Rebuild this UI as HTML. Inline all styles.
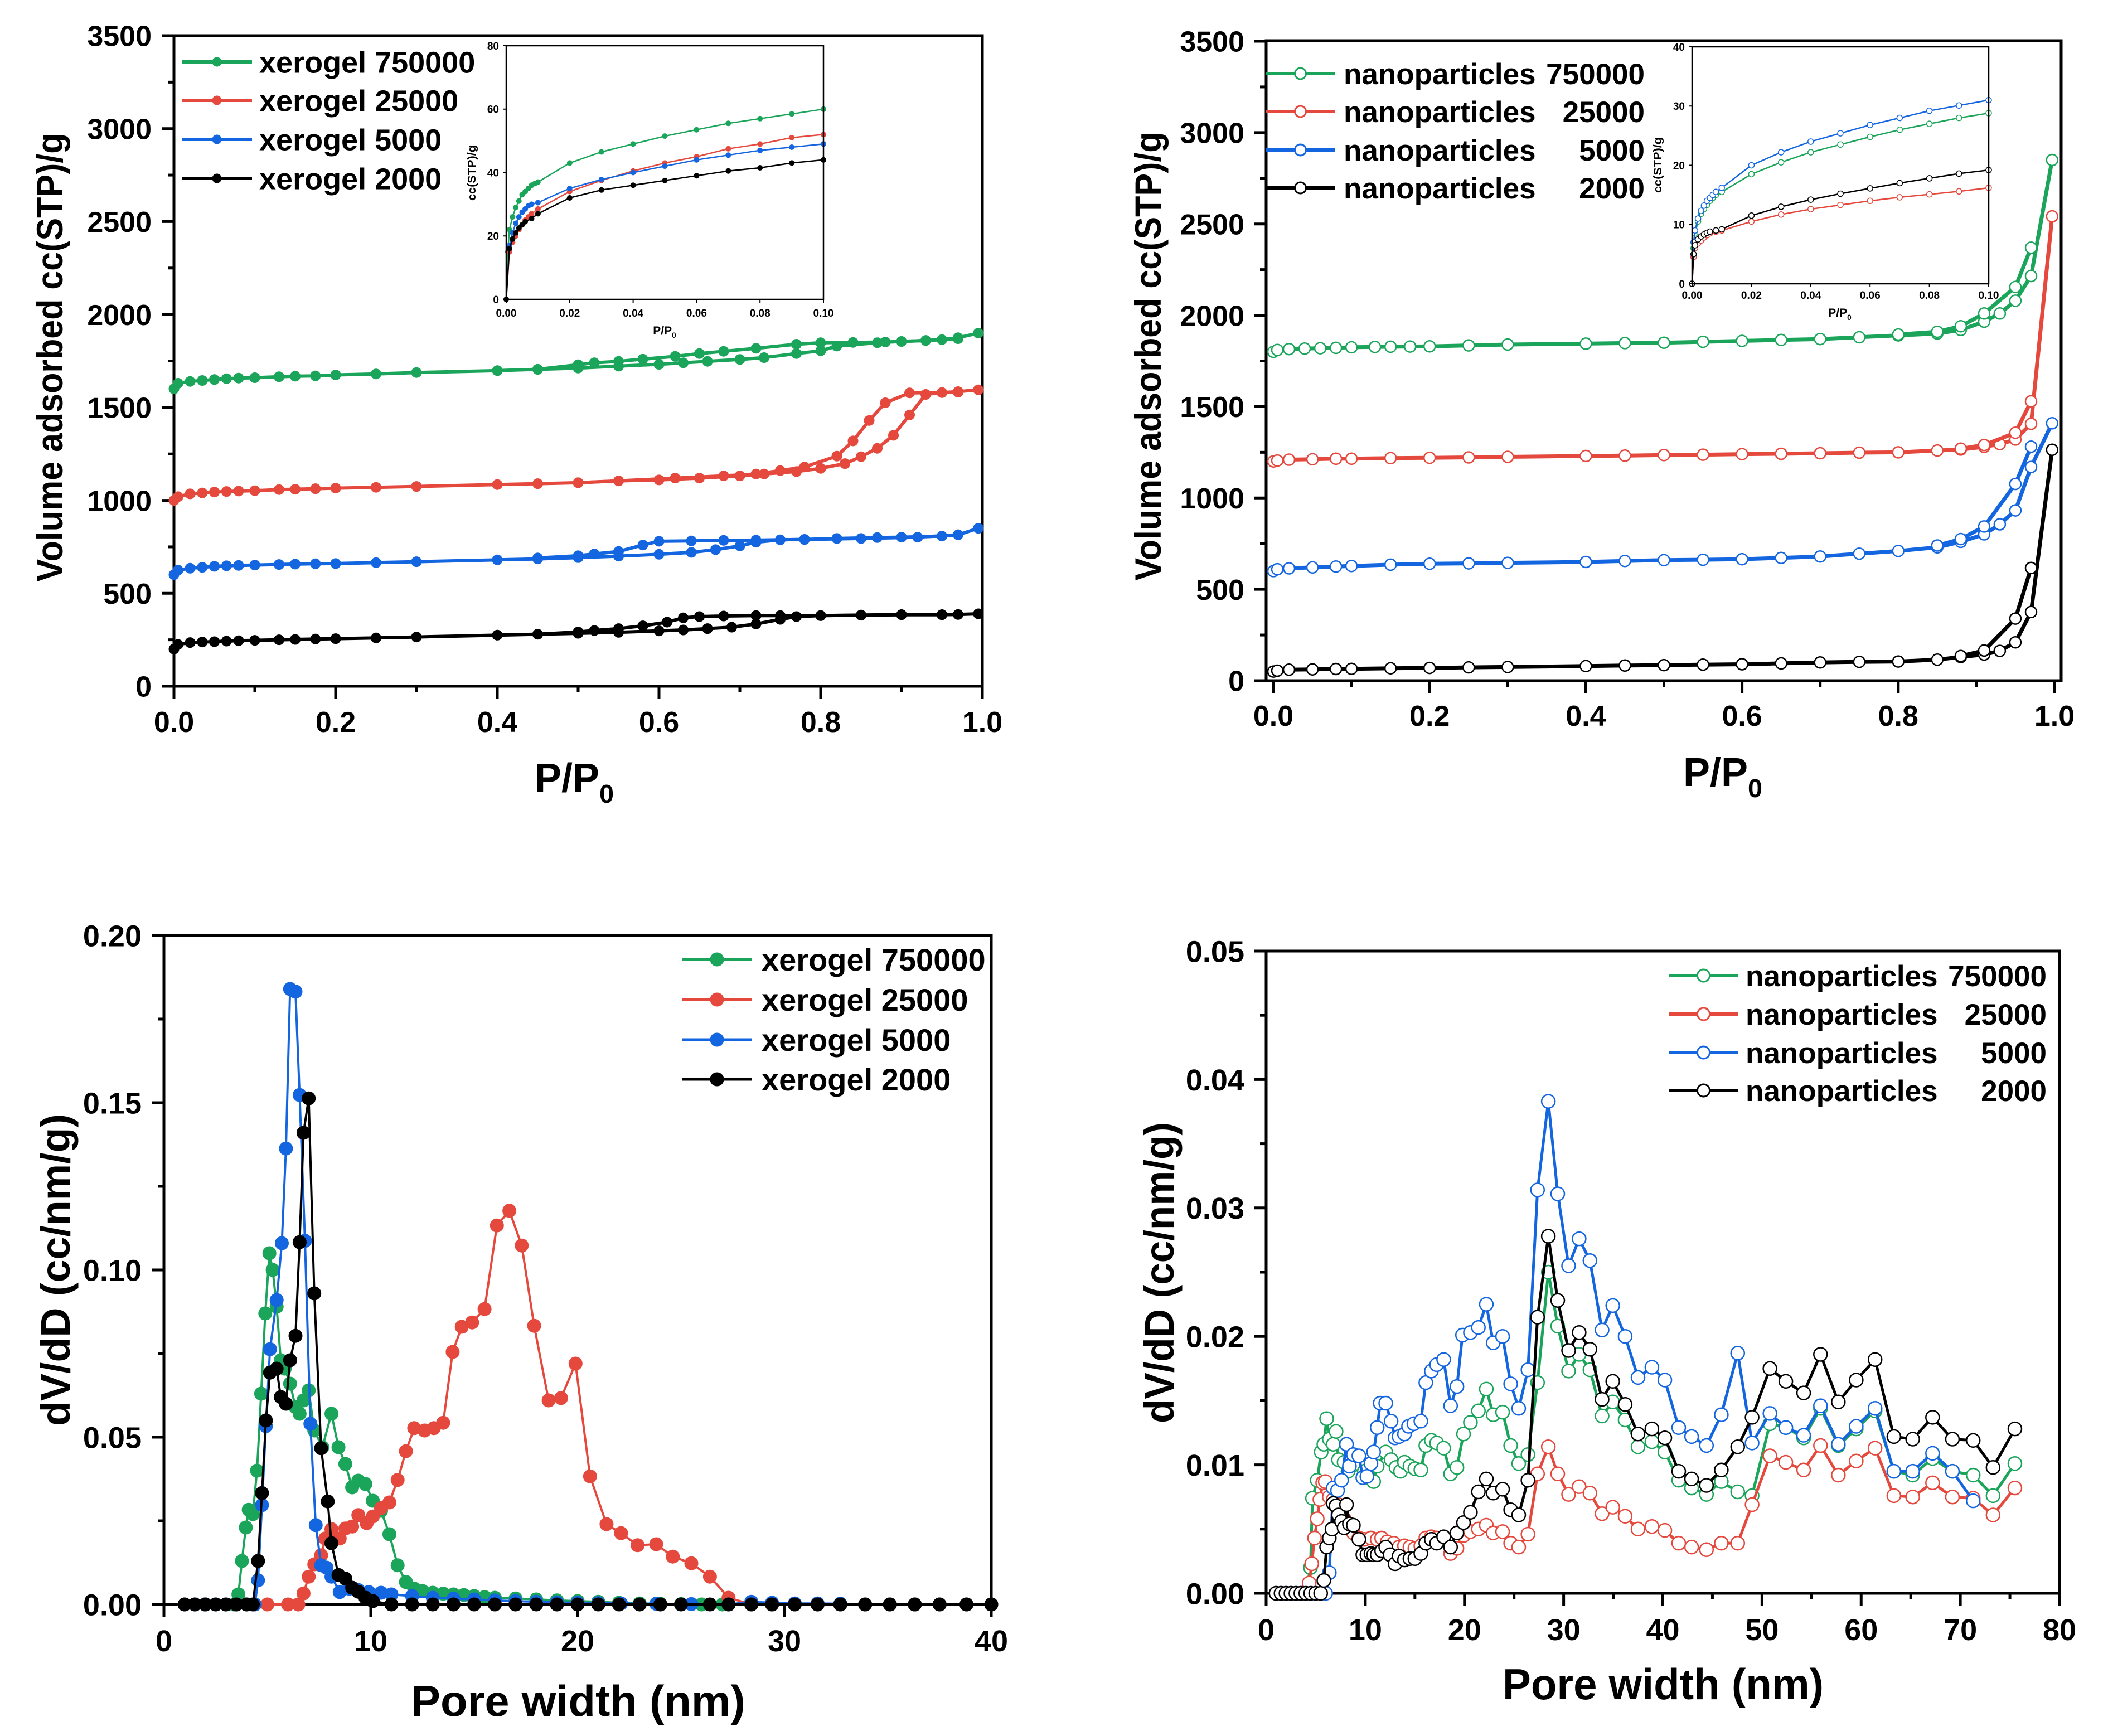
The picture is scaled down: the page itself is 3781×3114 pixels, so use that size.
<!DOCTYPE html>
<html><head><meta charset="utf-8"><style>
html,body{margin:0;padding:0;background:#fff;}
svg{display:block;font-family:"Liberation Sans",Arial,sans-serif;font-weight:bold;}
</style></head><body>
<svg id="fig" xmlns="http://www.w3.org/2000/svg" width="3781" height="3114" viewBox="0 0 3781 3114">
<rect width="3781" height="3114" fill="#fff"/>
</svg>
<script>
// ---------- DATA: top-left xerogel isotherms [P/P0, volume] ----------
const xg750Ads=[[0,1600],[0.005,1630],[0.02,1640],[0.035,1645],[0.05,1650],[0.065,1655],[0.08,1658],[0.1,1660],[0.13,1665],[0.15,1668],[0.175,1670],[0.2,1675],[0.25,1680],[0.3,1688],[0.4,1698],[0.45,1705],[0.5,1712],[0.55,1722],[0.6,1732],[0.63,1740],[0.66,1748],[0.7,1758],[0.73,1768],[0.77,1790],[0.8,1805],[0.82,1830],[0.87,1848],[0.9,1855],[0.93,1860],[0.95,1865],[0.97,1875],[0.995,1900]];
const xg750Des=[[0.97,1870],[0.93,1860],[0.88,1852],[0.84,1850],[0.8,1848],[0.77,1840],[0.72,1818],[0.68,1802],[0.65,1790],[0.62,1775],[0.58,1760],[0.55,1748],[0.52,1740],[0.5,1730],[0.45,1705]];
const xg25Ads=[[0,1000],[0.005,1020],[0.02,1035],[0.035,1040],[0.05,1045],[0.065,1048],[0.08,1050],[0.1,1052],[0.13,1058],[0.15,1060],[0.175,1063],[0.2,1066],[0.25,1070],[0.3,1075],[0.4,1085],[0.45,1090],[0.5,1095],[0.55,1105],[0.6,1110],[0.65,1120],[0.7,1132],[0.73,1142],[0.77,1155],[0.8,1172],[0.83,1198],[0.85,1235],[0.87,1280],[0.89,1350],[0.91,1460],[0.93,1570],[0.95,1580],[0.97,1585],[0.995,1595]];
const xg25Des=[[0.97,1582],[0.95,1580],[0.91,1578],[0.88,1525],[0.86,1430],[0.84,1320],[0.82,1238],[0.78,1180],[0.75,1160],[0.72,1142],[0.68,1132],[0.62,1120],[0.55,1105],[0.5,1095]];
const xg5Ads=[[0,600],[0.005,625],[0.02,635],[0.035,640],[0.05,645],[0.065,648],[0.08,650],[0.1,652],[0.13,655],[0.15,657],[0.175,659],[0.2,660],[0.25,665],[0.3,670],[0.4,680],[0.45,685],[0.5,692],[0.55,700],[0.6,710],[0.64,720],[0.67,735],[0.7,755],[0.72,775],[0.75,788],[0.78,790],[0.82,795],[0.87,800],[0.9,802],[0.95,808],[0.97,815],[0.995,850]];
const xg5Des=[[0.97,815],[0.92,802],[0.85,795],[0.78,790],[0.72,786],[0.68,785],[0.64,782],[0.6,780],[0.58,760],[0.55,725],[0.52,712],[0.5,702],[0.45,690]];
const xg2Ads=[[0,200],[0.005,225],[0.02,235],[0.035,238],[0.05,240],[0.065,243],[0.08,245],[0.1,247],[0.13,250],[0.15,252],[0.175,254],[0.2,256],[0.25,260],[0.3,265],[0.4,275],[0.45,280],[0.5,285],[0.55,290],[0.6,298],[0.63,303],[0.66,310],[0.69,318],[0.72,335],[0.75,360],[0.77,375],[0.8,380],[0.85,382],[0.9,385],[0.95,385],[0.97,386],[0.995,390]];
const xg2Des=[[0.95,385],[0.9,385],[0.85,383],[0.8,380],[0.75,380],[0.72,380],[0.68,378],[0.65,375],[0.63,368],[0.61,345],[0.58,325],[0.55,310],[0.52,300],[0.5,292],[0.45,280]];
// inset (low pressure)
const xgIn750=[[0,0],[0.0005,15],[0.001,22],[0.002,26],[0.003,29],[0.004,31],[0.005,33],[0.006,34],[0.007,35],[0.008,36],[0.009,36.5],[0.01,37],[0.02,43],[0.03,46.5],[0.04,49],[0.05,51.5],[0.06,53.5],[0.07,55.5],[0.08,57],[0.09,58.5],[0.1,60]];
const xgIn25=[[0,0],[0.001,15],[0.002,18],[0.003,20],[0.004,22],[0.005,23.5],[0.006,25],[0.007,26],[0.008,27],[0.01,28.5],[0.02,34],[0.03,37.5],[0.04,40.5],[0.05,43],[0.06,45],[0.07,47.5],[0.08,49],[0.09,51],[0.1,52]];
const xgIn5=[[0,0],[0.001,17],[0.002,21],[0.003,24],[0.004,26],[0.005,27.5],[0.006,28.5],[0.007,29.5],[0.008,30],[0.01,30.5],[0.02,35],[0.03,37.8],[0.04,40],[0.05,42],[0.06,44],[0.07,45.5],[0.08,47],[0.09,48],[0.1,49]];
const xgIn2=[[0,0],[0.001,16],[0.002,19],[0.003,21],[0.004,22.5],[0.005,23.5],[0.006,24.5],[0.008,25.5],[0.01,27],[0.02,32],[0.03,34.5],[0.04,36],[0.05,37.5],[0.06,39],[0.07,40.5],[0.08,41.5],[0.09,43],[0.1,44]];

// ---------- DATA: top-right nanoparticle isotherms ----------
const np750Ads=[[0,1800],[0.005,1810],[0.02,1815],[0.04,1818],[0.06,1820],[0.08,1822],[0.1,1825],[0.13,1827],[0.15,1828],[0.175,1829],[0.2,1830],[0.25,1835],[0.3,1840],[0.4,1845],[0.45,1848],[0.5,1850],[0.55,1855],[0.6,1860],[0.65,1865],[0.7,1870],[0.75,1880],[0.8,1890],[0.85,1900],[0.88,1920],[0.91,1965],[0.93,2010],[0.95,2080],[0.97,2215],[0.997,2850]];
const np750Des=[[0.97,2370],[0.95,2155],[0.91,2010],[0.88,1940],[0.85,1910],[0.8,1895]];
const np25Ads=[[0,1200],[0.005,1205],[0.02,1210],[0.05,1212],[0.08,1215],[0.1,1215],[0.15,1218],[0.2,1220],[0.25,1222],[0.3,1225],[0.4,1230],[0.45,1232],[0.5,1235],[0.55,1237],[0.6,1240],[0.65,1242],[0.7,1245],[0.75,1248],[0.8,1250],[0.85,1260],[0.88,1265],[0.91,1280],[0.93,1295],[0.95,1320],[0.97,1406],[0.997,2542]];
const np25Des=[[0.97,1529],[0.95,1357],[0.91,1290],[0.88,1270]];
const np5Ads=[[0,600],[0.005,610],[0.02,615],[0.05,620],[0.08,625],[0.1,628],[0.15,635],[0.2,640],[0.25,642],[0.3,645],[0.4,650],[0.45,655],[0.5,660],[0.55,662],[0.6,665],[0.65,672],[0.7,680],[0.75,695],[0.8,710],[0.85,730],[0.88,760],[0.91,801],[0.93,856],[0.95,932],[0.97,1170],[0.997,1409]];
const np5Des=[[0.97,1281],[0.95,1077],[0.91,844],[0.88,775],[0.85,740]];
const np2Ads=[[0,50],[0.005,55],[0.02,60],[0.05,62],[0.08,64],[0.1,65],[0.15,68],[0.2,70],[0.25,73],[0.3,75],[0.4,80],[0.45,83],[0.5,85],[0.55,88],[0.6,90],[0.65,95],[0.7,100],[0.75,103],[0.8,105],[0.85,115],[0.88,130],[0.91,143],[0.93,163],[0.95,210],[0.97,376],[0.997,1264]];
const np2Des=[[0.97,617],[0.95,340],[0.91,165],[0.88,135]];
const npIn750=[[0,0],[0.0005,6],[0.001,8.5],[0.002,10.5],[0.003,11.8],[0.004,12.6],[0.005,13.3],[0.006,14],[0.007,14.5],[0.008,15],[0.01,15.5],[0.02,18.5],[0.03,20.5],[0.04,22.2],[0.05,23.5],[0.06,24.8],[0.07,26],[0.08,27],[0.09,28],[0.1,28.8]];
const npIn25=[[0,0],[0.0005,4.5],[0.001,6],[0.002,6.8],[0.003,7.3],[0.004,7.8],[0.005,8.2],[0.006,8.5],[0.008,8.8],[0.01,9],[0.02,10.5],[0.03,11.7],[0.04,12.6],[0.05,13.3],[0.06,14],[0.07,14.6],[0.08,15.1],[0.09,15.6],[0.1,16.2]];
const npIn5=[[0,0],[0.0005,7],[0.001,9],[0.002,11],[0.003,12.3],[0.004,13.2],[0.005,14],[0.006,14.5],[0.007,15],[0.008,15.5],[0.01,16.2],[0.02,20],[0.03,22.2],[0.04,24],[0.05,25.4],[0.06,26.8],[0.07,28],[0.08,29.2],[0.09,30.1],[0.1,31]];
const npIn2=[[0,0],[0.0005,5],[0.001,6.5],[0.002,7.5],[0.003,8],[0.004,8.3],[0.005,8.6],[0.006,8.8],[0.008,9],[0.01,9.2],[0.02,11.5],[0.03,13],[0.04,14.2],[0.05,15.2],[0.06,16.1],[0.07,17],[0.08,17.8],[0.09,18.6],[0.1,19.2]];

// ---------- DATA: bottom-left xerogel PSD [nm, dV/dD] ----------
const psdX750=[[1,0],[1.5,0],[2,0],[2.5,0],[3,0],[3.4,0],[3.6,0.003],[3.77,0.013],[3.96,0.023],[4.1,0.0283],[4.3,0.027],[4.5,0.04],[4.7,0.063],[4.9,0.087],[5.1,0.105],[5.26,0.1],[5.45,0.089],[5.65,0.073],[5.84,0.0705],[6.1,0.066],[6.36,0.059],[6.56,0.057],[6.75,0.061],[7.0,0.064],[7.27,0.052],[7.66,0.047],[8.1,0.057],[8.44,0.047],[8.77,0.042],[9.1,0.035],[9.4,0.037],[9.74,0.036],[10.1,0.031],[10.5,0.028],[10.9,0.021],[11.3,0.0117],[11.7,0.0067],[12.1,0.0047],[12.5,0.004],[13,0.0035],[13.5,0.0032],[14,0.003],[14.5,0.0028],[15,0.0025],[15.5,0.0022],[16,0.002],[17,0.0018],[18,0.0015],[19,0.0012],[20,0.001],[21,0.0008],[22,0.0005],[23,0.0003],[24,0.0002],[25,0.0001],[26,0],[27,0],[28.4,0],[29.4,0],[30.5,0],[31.6,0],[32.7,0],[33.9,0],[35.1,0],[36.3,0],[37.5,0],[38.8,0],[40,0]];
const psdX25=[[1,0],[2,0],[3,0],[4,0],[5,0],[6,0],[6.5,0],[6.75,0.0033],[7.0,0.0083],[7.27,0.012],[7.6,0.0147],[7.8,0.0197],[8.1,0.0225],[8.5,0.0197],[8.77,0.0227],[9.1,0.0233],[9.4,0.0267],[9.8,0.0243],[10.1,0.0263],[10.5,0.0288],[10.9,0.0305],[11.3,0.0372],[11.7,0.0458],[12.1,0.0527],[12.6,0.052],[13.05,0.0527],[13.5,0.0543],[13.96,0.0755],[14.4,0.083],[14.9,0.0843],[15.5,0.0883],[16.1,0.1133],[16.7,0.1177],[17.3,0.1073],[17.9,0.0833],[18.6,0.061],[19.2,0.0617],[19.9,0.072],[20.6,0.0383],[21.4,0.024],[22.1,0.0213],[22.9,0.0177],[23.8,0.018],[24.6,0.0143],[25.5,0.0123],[26.4,0.0083],[27.3,0.002],[28.4,0],[29.4,0],[30.5,0],[31.6,0],[32.7,0],[33.9,0],[35.1,0],[36.3,0],[37.5,0],[38.8,0],[40,0]];
const psdX5=[[1,0],[1.5,0],[2,0],[2.5,0],[3,0],[3.5,0],[4,0],[4.4,0],[4.55,0.0072],[4.74,0.0297],[4.93,0.0533],[5.13,0.0763],[5.45,0.091],[5.7,0.108],[5.9,0.1363],[6.1,0.184],[6.36,0.1832],[6.56,0.1523],[6.82,0.1087],[7.08,0.054],[7.34,0.0237],[7.6,0.0117],[7.86,0.011],[8.1,0.0083],[8.5,0.0037],[8.96,0.0047],[9.4,0.0043],[9.9,0.0037],[10.5,0.0035],[11,0.003],[12,0.0025],[13,0.002],[14,0.0017],[15,0.0015],[16,0.0012],[17,0.001],[18,0.0008],[19,0.0006],[20,0.0005],[21,0.0004],[22.1,0.0003],[23.8,0.0002],[25.5,0.0001],[27.3,0],[28.4,0.0008],[29.4,0.0005],[30.5,0.0003],[31.6,0.0003],[32.7,0.0002],[33.9,0],[35.1,0],[36.3,0],[37.5,0],[38.8,0],[40,0]];
const psdX2=[[1,0],[1.5,0],[2,0],[2.5,0],[3,0],[3.5,0],[4,0],[4.3,0],[4.55,0.013],[4.74,0.0333],[4.93,0.055],[5.13,0.0693],[5.45,0.0705],[5.65,0.062],[5.9,0.06],[6.1,0.073],[6.36,0.0803],[6.56,0.1083],[6.75,0.141],[7.0,0.1513],[7.27,0.093],[7.6,0.0467],[7.92,0.0308],[8.1,0.0183],[8.44,0.0088],[8.77,0.0077],[9.1,0.005],[9.4,0.0038],[9.74,0.002],[10.1,0.001],[11,0],[12,0],[13,0],[14,0],[15,0],[16,0],[17,0],[18,0],[19,0],[20,0],[21,0],[22,0],[23,0],[24,0],[25,0],[26.4,0],[27.3,0],[28.4,0],[29.4,0],[30.5,0],[31.6,0],[32.7,0],[33.9,0],[35.1,0],[36.3,0],[37.5,0],[38.8,0],[40,0]];

// ---------- DATA: bottom-right nanoparticle PSD [nm, dV/dD] ----------
const psdN750=[[1,0],[1.5,0],[2,0],[2.5,0],[3,0],[3.5,0],[4,0],[4.47,0.002],[4.67,0.0074],[5.15,0.0088],[5.55,0.011],[5.82,0.0116],[6.1,0.0136],[6.37,0.012],[6.77,0.0116],[7.05,0.0126],[7.3,0.0104],[7.86,0.0102],[8.26,0.0095],[8.8,0.01],[9.35,0.0101],[9.9,0.0095],[10.4,0.009],[10.84,0.0087],[11.2,0.0099],[12.06,0.011],[12.6,0.0104],[13.1,0.0098],[13.55,0.0095],[13.95,0.0102],[14.5,0.0099],[15.0,0.0097],[15.6,0.0096],[16.1,0.0115],[16.66,0.0119],[17.2,0.0117],[17.9,0.0113],[18.6,0.0093],[19.24,0.0098],[19.9,0.0124],[20.6,0.0133],[21.4,0.0142],[22.2,0.0159],[22.9,0.0139],[23.84,0.0141],[24.66,0.0115],[25.47,0.0101],[26.4,0.0108],[27.37,0.0164],[28.45,0.025],[29.4,0.0208],[30.5,0.0173],[31.56,0.0186],[32.65,0.0174],[33.87,0.0138],[34.95,0.0149],[36.2,0.0135],[37.5,0.0114],[38.9,0.0118],[40.2,0.011],[41.6,0.0088],[42.9,0.0082],[44.4,0.0077],[45.9,0.0087],[47.55,0.0079],[49.0,0.0076],[50.8,0.0132],[52.4,0.0129],[54.2,0.0121],[55.9,0.0144],[57.7,0.0115],[59.5,0.0128],[61.4,0.0142],[63.3,0.0095],[65.2,0.0092],[67.2,0.0105],[69.2,0.0095],[71.3,0.0092],[73.3,0.0076],[75.5,0.0101]];
const psdN25=[[1,0],[1.5,0],[2,0],[2.5,0],[3,0],[3.5,0],[4,0],[4.34,0.0008],[4.6,0.0023],[4.88,0.0043],[5.15,0.0058],[5.42,0.0073],[5.7,0.0086],[5.96,0.0087],[6.37,0.0075],[6.77,0.0073],[7.3,0.0069],[7.86,0.0058],[8.26,0.0052],[8.8,0.0047],[9.35,0.0043],[9.9,0.0042],[10.57,0.0043],[11.2,0.0042],[11.65,0.0043],[12.2,0.004],[12.87,0.0039],[13.4,0.0036],[13.95,0.0037],[14.5,0.0036],[15.0,0.0035],[15.6,0.0037],[16.1,0.0043],[16.66,0.0044],[17.2,0.0043],[17.9,0.0043],[18.6,0.0031],[19.24,0.0035],[19.9,0.0045],[20.6,0.0048],[21.4,0.005],[22.2,0.0053],[22.9,0.0047],[23.84,0.0048],[24.66,0.0039],[25.47,0.0036],[26.4,0.0046],[27.37,0.0093],[28.45,0.0114],[29.4,0.0093],[30.5,0.0077],[31.56,0.0083],[32.65,0.0078],[33.87,0.0062],[34.95,0.0067],[36.2,0.006],[37.5,0.005],[38.9,0.0052],[40.2,0.0049],[41.6,0.0039],[42.9,0.0036],[44.4,0.0034],[45.9,0.0039],[47.55,0.0039],[49.0,0.0069],[50.8,0.0107],[52.4,0.0102],[54.2,0.0096],[55.9,0.0115],[57.7,0.0092],[59.5,0.0103],[61.4,0.0113],[63.3,0.0076],[65.2,0.0075],[67.2,0.0086],[69.2,0.0075],[71.3,0.0074],[73.3,0.0061],[75.5,0.0082]];
const psdN5=[[1,0],[1.5,0],[2,0],[2.5,0],[3,0],[3.5,0],[4,0],[4.5,0],[5,0],[5.5,0],[6,0],[6.37,0.0016],[6.77,0.0082],[7.2,0.008],[7.6,0.0088],[8.1,0.0116],[8.4,0.0099],[8.8,0.0108],[9.35,0.0107],[9.75,0.009],[10.16,0.0091],[10.57,0.0101],[10.84,0.011],[11.2,0.0129],[11.5,0.0148],[12.06,0.0148],[12.6,0.0134],[13.0,0.0121],[13.4,0.0122],[13.95,0.0124],[14.36,0.013],[14.9,0.0132],[15.6,0.0134],[16.1,0.0164],[16.66,0.0173],[17.2,0.0178],[17.9,0.0182],[18.6,0.0146],[19.24,0.0161],[19.8,0.0201],[20.6,0.0203],[21.4,0.0207],[22.2,0.0225],[22.9,0.0195],[23.84,0.02],[24.66,0.0163],[25.47,0.0144],[26.4,0.0174],[27.37,0.0314],[28.45,0.0383],[29.4,0.0311],[30.5,0.0255],[31.56,0.0276],[32.65,0.0259],[33.87,0.0205],[34.95,0.0224],[36.2,0.02],[37.5,0.0168],[38.9,0.0176],[40.2,0.0166],[41.6,0.0129],[42.9,0.0122],[44.4,0.0115],[45.9,0.0139],[47.55,0.0187],[49.0,0.0117],[50.8,0.014],[52.4,0.0129],[54.2,0.0123],[55.9,0.0146],[57.7,0.0116],[59.5,0.013],[61.4,0.0144],[63.3,0.0095],[65.2,0.0095],[67.2,0.0109],[69.2,0.0095],[71.3,0.0072]];
const psdN2=[[1,0],[1.5,0],[2,0],[2.5,0],[3,0],[3.5,0],[4,0],[4.5,0],[5,0],[5.5,0],[5.82,0.001],[6.1,0.0036],[6.37,0.0043],[6.64,0.005],[6.77,0.007],[7.05,0.0068],[7.3,0.0061],[7.6,0.0056],[7.86,0.0051],[8.1,0.0069],[8.4,0.0054],[8.8,0.0053],[9.35,0.0042],[9.75,0.003],[10.16,0.003],[10.57,0.0031],[10.84,0.003],[11.2,0.003],[11.65,0.0033],[12.06,0.0036],[12.5,0.003],[13.0,0.0023],[13.4,0.0029],[13.95,0.0026],[14.5,0.0027],[15.0,0.0027],[15.6,0.0031],[16.1,0.0039],[16.66,0.0042],[17.2,0.0039],[17.9,0.0044],[18.6,0.0036],[19.24,0.0047],[19.9,0.0055],[20.6,0.0063],[21.4,0.0079],[22.2,0.0089],[22.9,0.0078],[23.84,0.0081],[24.66,0.0065],[25.47,0.0061],[26.4,0.0088],[27.37,0.0215],[28.45,0.0278],[29.4,0.0228],[30.5,0.0189],[31.56,0.0203],[32.65,0.019],[33.87,0.0151],[34.95,0.0165],[36.2,0.0147],[37.5,0.0124],[38.9,0.0128],[40.2,0.0121],[41.6,0.0095],[42.9,0.0089],[44.4,0.0084],[45.9,0.0096],[47.55,0.0114],[49.0,0.0137],[50.8,0.0175],[52.4,0.0165],[54.2,0.0156],[55.9,0.0186],[57.7,0.0149],[59.5,0.0166],[61.4,0.0182],[63.3,0.0122],[65.2,0.012],[67.2,0.0137],[69.2,0.012],[71.3,0.0119],[73.3,0.0098],[75.5,0.0128]];

// tick label arrays
const isoXTicks=["0.0","0.2","0.4","0.6","0.8","1.0"];
const isoYTicks=["0","500","1000","1500","2000","2500","3000","3500"];
const inXTicks=["0.00","0.02","0.04","0.06","0.08","0.10"];
const xgInYTicks=["0","20","40","60","80"];
const npInYTicks=["0","10","20","30","40"];
const blXTicks=["0","10","20","30","40"];
const blYTicks=["0.00","0.05","0.10","0.15","0.20"];
const brXTicks=["0","10","20","30","40","50","60","70","80"];
const brYTicks=["0.00","0.01","0.02","0.03","0.04","0.05"];
const xgNames=["xerogel 750000","xerogel 25000","xerogel 5000","xerogel 2000"];
const npNums=["750000","25000","5000","2000"];

const GREEN="#1aa55a",RED="#e5483c",BLUE="#1466e0",BLACK="#000000";
const COLORS=[GREEN,RED,BLUE,BLACK];
const NS="http://www.w3.org/2000/svg";
const svg=document.getElementById("fig");
function mk(tag,attrs,parent,text){const e=document.createElementNS(NS,tag);for(const k in attrs)e.setAttribute(k,attrs[k]);if(text!==undefined)e.textContent=text;(parent||svg).appendChild(e);return e;}
function lin(p0,p1,d0,d1){return v=>p0+(v-d0)/(d1-d0)*(p1-p0);}

function group(name){const g=mk("g",{});


return g;}

function frame(g,L,T,R,B,w){const r=mk("rect",{x:L,y:T,width:R-L,height:B-T,fill:"none",stroke:"#000","stroke-width":w},g);

}

function xTicks(g,sx,B,labels,vals,minors,len,fs,base,w){
 minors.forEach(v=>{const t=mk("line",{x1:sx(v),x2:sx(v),y1:B,y2:B+len*0.5,stroke:"#000","stroke-width":w},g);
 
 });
 vals.forEach((v,i)=>{const t=mk("line",{x1:sx(v),x2:sx(v),y1:B,y2:B+len,stroke:"#000","stroke-width":w},g);
 
 
 const l=mk("text",{x:sx(v),y:base,"font-size":fs,"text-anchor":"middle"},g,labels[i]);
 
 });
}
function yTicks(g,sy,L,labels,vals,minors,len,fs,rx,w){
 minors.forEach(v=>{const t=mk("line",{x1:L,x2:L-len*0.5,y1:sy(v),y2:sy(v),stroke:"#000","stroke-width":w},g);
 
 });
 vals.forEach((v,i)=>{const t=mk("line",{x1:L,x2:L-len,y1:sy(v),y2:sy(v),stroke:"#000","stroke-width":w},g);
 
 
 const l=mk("text",{x:rx,y:sy(v)+fs*0.36,"font-size":fs,"text-anchor":"end"},g,labels[i]);
 
 });
}
function series(g,pts,sx,sy,color,lw,r,open,sw,name){
 const sg=mk("g",{},g);
 
 
 const d=pts.map((p,i)=>(i?"L":"M")+sx(p[0]).toFixed(1)+" "+sy(p[1]).toFixed(1)).join(" ");
 const pl=mk("path",{d:d,fill:"none",stroke:color,"stroke-width":lw,"stroke-linejoin":"round"},sg);
 
 
 pts.forEach(p=>{const c=mk("circle",{cx:sx(p[0]).toFixed(1),cy:sy(p[1]).toFixed(1),r:r,fill:open?"#fff":color,stroke:color,"stroke-width":sw},sg);
 
 });
}
function vtitle(g,x,y,txt,fs,len,name){const t=mk("text",{x:0,y:0,"font-size":fs,"text-anchor":"middle",transform:`translate(${x},${y}) rotate(-90)`,textLength:len,lengthAdjust:"spacingAndGlyphs"},g,txt);

}
function ppTitle(g,x,y,fs,name){const t=mk("text",{x:x,y:y,"font-size":fs,"text-anchor":"middle"},g);


mk("tspan",{},t,"P/P");mk("tspan",{dy:fs*0.28,"font-size":fs*0.65},t,"0");}
function legendRow(g,x1,x2,y,color,r,open,lw,tx,fs,label,num,numX,name){
 const lg=mk("g",{},g);
 
 
 mk("line",{x1:x1,x2:x2,y1:y,y2:y,stroke:color,"stroke-width":lw},lg);
 mk("circle",{cx:(x1+x2)/2,cy:y,r:r,fill:open?"#fff":color,stroke:color,"stroke-width":open?3:1},lg);
 mk("text",{x:tx,y:y+fs*0.36,"font-size":fs},lg,label);
 if(num)mk("text",{x:numX,y:y+fs*0.36,"font-size":fs,"text-anchor":"end"},lg,num);
}
const range=(a,b,s)=>{const o=[];for(let v=a;v<=b+1e-9;v+=s)o.push(+v.toFixed(6));return o;};

// ===== Panel 1: top-left =====
(function(){
 const g=group("xerogel-isotherm-panel");
 const L=312,R=1762,T=64,B=1231;
 const sx=lin(L,R,0,1), sy=lin(B,T,0,3500);
 frame(g,L,T,R,B,5);
 xTicks(g,sx,B,isoXTicks,range(0,1,0.2),range(0.1,0.9,0.2),22,52,1313,5);
 yTicks(g,sy,L,isoYTicks,range(0,3500,500),range(250,3250,500),22,52,272,5);
 vtitle(g,112,641,"Volume adsorbed cc(STP)/g",66,805,"y-axis-title");
 ppTitle(g,1030,1420,72,"x-axis-title");
 const sets=[[xg750Ads,xg750Des],[xg25Ads,xg25Des],[xg5Ads,xg5Des],[xg2Ads,xg2Des]];
 const nm=["xerogel-750000","xerogel-25000","xerogel-5000","xerogel-2000"];
 sets.forEach((s,i)=>{series(g,s[0],sx,sy,COLORS[i],6,9,false,1,nm[i]+"-adsorption");series(g,s[1],sx,sy,COLORS[i],6,9,false,1,nm[i]+"-desorption");});
 const ly=[111,180,250,320];
 xgNames.forEach((n,i)=>legendRow(g,326,452,ly[i],COLORS[i],8,false,6,465,54,n,null,0,"legend-entry-"+nm[i]));
 // inset
 const ig=group("xerogel-inset");g.appendChild(ig);
 const iL=908,iR=1477,iT=82,iB=537;
 const ix=lin(iL,iR,0,0.1), iy=lin(iB,iT,0,80);
 mk("rect",{x:iL,y:iT,width:iR-iL,height:iB-iT,fill:"#fff",stroke:"none"},ig);
 [xgIn750,xgIn25,xgIn5,xgIn2].forEach((s,i)=>series(ig,s,ix,iy,COLORS[i],2.5,4.5,false,1,"inset-"+nm[i]));
 frame(ig,iL,iT,iR,iB,2.5);
 xTicks(ig,ix,iB,inXTicks,range(0,0.1,0.02),[],6,19,568,2);
 yTicks(ig,iy,iL,xgInYTicks,range(0,80,20),[],6,19,895,2);
 vtitle(ig,853,310,"cc(STP)/g",20,100,"inset-y-axis-title");
 ppTitle(ig,1192,600,21,"inset-x-axis-title");
})();

// ===== Panel 2: top-right =====
(function(){
 const g=group("nanoparticle-isotherm-panel");
 const L=2271,R=3697,T=73,B=1221;
 const sx=lin(2284,3685,0,1), sy=lin(B,74,0,3500);
 frame(g,L,T,R,B,5);
 xTicks(g,sx,B,isoXTicks,range(0,1,0.2),range(0.1,0.9,0.2),22,52,1302,5);
 yTicks(g,sy,L,isoYTicks,range(0,3500,500),range(250,3250,500),22,52,2232,5);
 vtitle(g,2082,639,"Volume adsorbed cc(STP)/g",66,805,"y-axis-title");
 ppTitle(g,3090,1410,72,"x-axis-title");
 const sets=[[np750Ads,np750Des],[np25Ads,np25Des],[np5Ads,np5Des],[np2Ads,np2Des]];
 const nm=["nanoparticles-750000","nanoparticles-25000","nanoparticles-5000","nanoparticles-2000"];
 sets.forEach((s,i)=>{series(g,s[0],sx,sy,COLORS[i],7,10,true,2.5,nm[i]+"-adsorption");series(g,s[1],sx,sy,COLORS[i],7,10,true,2.5,nm[i]+"-desorption");});
 const ly=[132,200,269,337];
 npNums.forEach((n,i)=>legendRow(g,2271,2394,ly[i],COLORS[i],10,true,6,2410,53,"nanoparticles",n,2950,"legend-entry-"+nm[i]));
 const ig=group("nanoparticle-inset");g.appendChild(ig);
 const iL=3035,iR=3567,iT=84,iB=509;
 const ix=lin(iL,iR,0,0.1), iy=lin(iB,iT,0,40);
 mk("rect",{x:iL,y:iT,width:iR-iL,height:iB-iT,fill:"#fff",stroke:"none"},ig);
 [npIn750,npIn25,npIn5,npIn2].forEach((s,i)=>series(ig,s,ix,iy,COLORS[i],2.5,5,true,1.5,"inset-"+nm[i]));
 frame(ig,iL,iT,iR,iB,2.5);
 xTicks(ig,ix,iB,inXTicks,range(0,0.1,0.02),[],6,19,536,2);
 yTicks(ig,iy,iL,npInYTicks,range(0,40,10),[],6,19,3022,2);
 vtitle(ig,2980,296,"cc(STP)/g",20,100,"inset-y-axis-title");
 ppTitle(ig,3300,568,21,"inset-x-axis-title");
})();

// ===== Panel 3: bottom-left =====
(function(){
 const g=group("xerogel-psd-panel");
 const L=294,R=1778,T=1678,B=2878;
 const sx=lin(L,R,0,40), sy=lin(B,T,0,0.2);
 frame(g,L,T,R,B,5);
 xTicks(g,sx,B,blXTicks,range(0,40,10),range(5,35,10),22,54,2962,5);
 yTicks(g,sy,L,blYTicks,range(0,0.2,0.05),range(0.025,0.175,0.05),22,54,254,5);
 vtitle(g,125,2278,"dV/dD (cc/nm/g)",74,560,"y-axis-title");
 const xt=mk("text",{x:1037,y:3078,"font-size":78,"text-anchor":"middle",textLength:600,lengthAdjust:"spacingAndGlyphs"},g,"Pore width (nm)");
 
 
 const nm=["xerogel-750000","xerogel-25000","xerogel-5000","xerogel-2000"];
 [psdX750,psdX25,psdX5,psdX2].forEach((s,i)=>series(g,s,sx,sy,COLORS[i],4,12,false,1,nm[i]+"-psd"));
 const ly=[1721,1793,1865,1936];
 xgNames.forEach((n,i)=>legendRow(g,1223,1349,ly[i],COLORS[i],12,false,5,1366,56,n,null,0,"legend-entry-"+nm[i]));
})();

// ===== Panel 4: bottom-right =====
(function(){
 const g=group("nanoparticle-psd-panel");
 const L=2271,R=3694,T=1706,B=2858;
 const sx=lin(L,R,0,80), sy=lin(B,T,0,0.05);
 frame(g,L,T,R,B,5);
 xTicks(g,sx,B,brXTicks,range(0,80,10),range(5,75,10),22,54,2942,5);
 yTicks(g,sy,L,brYTicks,range(0,0.05,0.01),range(0.005,0.045,0.01),22,54,2232,5);
 vtitle(g,2105,2283,"dV/dD (cc/nm/g)",74,540,"y-axis-title");
 const xt=mk("text",{x:2983,y:3048,"font-size":78,"text-anchor":"middle",textLength:576,lengthAdjust:"spacingAndGlyphs"},g,"Pore width (nm)");
 
 
 const nm=["nanoparticles-750000","nanoparticles-25000","nanoparticles-5000","nanoparticles-2000"];
 [psdN750,psdN25,psdN5,psdN2].forEach((s,i)=>series(g,s,sx,sy,COLORS[i],5,12,true,2.5,nm[i]+"-psd"));
 const ly=[1750,1819,1888,1956];
 npNums.forEach((n,i)=>legendRow(g,2994,3117,ly[i],COLORS[i],11,true,6,3131,53,"nanoparticles",n,3671,"legend-entry-"+nm[i]));
})();
</script>
</body></html>
